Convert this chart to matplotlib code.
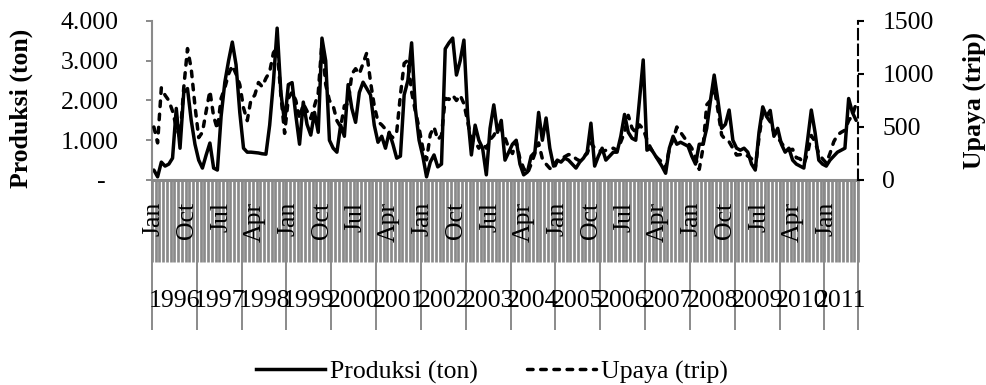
import matplotlib
matplotlib.use("Agg")
import matplotlib.pyplot as plt
import matplotlib.transforms as mtransforms
from matplotlib.lines import Line2D
import numpy as np

# monthly data, Jan 1996 .. Sep 2011
produksi = [
    250, 80, 450, 350, 400, 550, 1800, 800, 2200, 2300, 1500, 900,
    500, 300, 630, 930, 300, 250, 1600, 2460, 3000, 3470, 2900, 1700,
    800, 700, 700, 690, 680, 660, 650, 1380, 2460, 3820, 2200, 1450,
    2400, 2450, 1630, 900, 1960, 1400, 1130, 1700, 1200, 3570, 3000, 1000,
    800, 700, 1380, 1100, 2400, 1800, 1450, 2200, 2460, 2300, 2140, 1380,
    950, 1100, 800, 1200, 900, 550, 600, 2140, 2500, 3450, 1800, 1000,
    600, 80, 450, 630, 330, 400, 3300, 3450, 3570, 2640, 3000, 3520,
    1630, 630, 1380, 1000, 800, 130, 1300, 1890, 1200, 1500, 500, 700,
    900, 1000, 400, 130, 200, 600, 700, 1700, 1000, 1560, 800, 350,
    500, 450, 550, 500, 400, 300, 450, 550, 700, 1430, 350, 600,
    800, 500, 600, 700, 700, 1100, 1650, 1200, 1050, 1000, 2000, 3020,
    750, 800, 650, 500, 350, 170, 800, 1100, 900, 950, 900, 850,
    600, 400, 900, 900, 1300, 2000, 2640, 2000, 1300, 1400, 1760, 1000,
    800, 750, 800, 700, 400, 250, 1200, 1840, 1600, 1750, 1100, 1300,
    900, 700, 800, 500, 400, 350, 300, 1000, 1760, 1200, 500, 400,
    350, 500, 600, 700, 750, 800, 2050, 1700, 1500,
]
upaya = [
    500, 350, 870, 800, 750, 650, 500, 400, 870, 1240, 1050, 700,
    400, 450, 650, 840, 600, 480, 770, 870, 1000, 1080, 1000, 900,
    680, 560, 760, 800, 920, 880, 960, 1020, 1200, 1250, 800, 440,
    770, 830, 750, 580, 720, 650, 580, 700, 820, 1300, 900, 750,
    700, 560, 500, 700, 720, 1000, 1050, 1000, 1100, 1200, 925, 700,
    550, 520, 480, 430, 400, 450, 800, 1100, 1130, 830, 650, 490,
    300, 190, 430, 500, 380, 420, 770, 760, 800, 750, 800, 720,
    550, 380, 360, 300, 350, 300, 380, 420, 490, 480, 400, 300,
    250, 360, 200, 110, 60, 150, 250, 350, 200, 150, 110, 100,
    180, 200, 220, 240, 235, 200, 180, 220, 250, 350, 300, 280,
    270, 280, 290, 300, 280, 360, 450, 610, 490, 450, 520, 480,
    380, 300, 235, 200, 170, 110, 300, 380, 500, 450, 400, 350,
    300, 210, 100, 300, 710, 750, 880, 660, 425, 380, 360, 300,
    235, 240, 220, 230, 200, 110, 400, 640, 600, 550, 450, 400,
    350, 300, 280, 290, 210, 200, 150, 250, 420, 360, 250, 200,
    160, 250, 360, 425, 450, 470, 560, 610, 720,
]
month_names = ["Jan", "Feb", "Mar", "Apr", "May", "Jun",
               "Jul", "Aug", "Sep", "Oct", "Nov", "Dec"]
years = list(range(1996, 2012))
left_ticks = [0, 1000, 2000, 3000, 4000]
left_ticklabels = ["-  ", "1.000", "2.000", "3.000", "4.000"]
right_ticks = [0, 500, 1000, 1500]

plt.rcParams["font.family"] = ["Liberation Serif", "DejaVu Serif"]
FS = 18.5
GRAY = "#8a8a8a"

n = len(produksi)
x = np.arange(n)

fig = plt.figure(figsize=(9.86, 3.85), dpi=100)
ax = fig.add_axes([152 / 986, 1 - 180 / 385, 706 / 986, 159 / 385])
ax2 = ax.twinx()

ax.plot(x, produksi, color="black", lw=2.5, solid_joinstyle="round",
        solid_capstyle="round")
ax.set_xlim(-0.5, n - 0.5)
ax.set_ylim(0, 4000)
ax.set_yticks(left_ticks)
ax.set_yticklabels(left_ticklabels)
ax.tick_params(axis="y", which="major", length=4, width=1.4, color=GRAY,
               pad=20, labelsize=FS)
for s in ["top", "right"]:
    ax.spines[s].set_visible(False)
ax.spines["left"].set_color(GRAY)
ax.spines["left"].set_linewidth(1.5)
ax.spines["bottom"].set_color(GRAY)
ax.spines["bottom"].set_linewidth(2.2)
ax.set_ylabel("Produksi (ton)", fontsize=FS, fontweight="bold")
ax.yaxis.set_label_coords(-0.1686, 0.45)

# month ticks form the grey band, year ticks go down further
ax.xaxis.remove_overlapping_locs = False
ax.set_xticks(np.arange(-0.5, n))
year_edges = [-0.5 + 12 * k for k in range(len(years))] + [n - 0.5]
ax.set_xticks(year_edges, minor=True)
ax.tick_params(axis="x", which="major", length=59, width=1.95,
               color=GRAY, labelbottom=False)
ax.tick_params(axis="x", which="minor", length=108, width=1.4,
               color=GRAY, labelbottom=False)

xt = ax.get_xaxis_transform()
month_tr = mtransforms.offset_copy(xt, fig=fig, y=-22, units="dots")
for i in range(0, n, 9):
    ax.text(i, 0, month_names[i % 12], transform=month_tr, rotation=90,
            ha="center", va="top", fontsize=FS)
year_tr = mtransforms.offset_copy(xt, fig=fig, y=-121, units="dots")
for k, yr in enumerate(years):
    lo = year_edges[k]
    hi = year_edges[k + 1]
    ax.text((lo + hi) / 2, 0, str(yr), transform=year_tr,
            ha="center", va="center", fontsize=FS)

ax2.plot(x, upaya, color="black", lw=2.5, linestyle=(0, (1.6, 2.2)),
         dash_capstyle="round", dash_joinstyle="round")
ax2.set_ylim(0, 1500)
ax2.set_yticks(right_ticks)
for s in ["top", "left", "bottom"]:
    ax2.spines[s].set_visible(False)
ax2.spines["right"].set_linestyle((0, (5, 2.5)))
ax2.spines["right"].set_linewidth(1.5)
ax2.spines["right"].set_color("black")
ax2.tick_params(axis="y", length=4.5, width=1.5, color="black", pad=13,
                labelsize=FS)
ax2.set_ylabel("Upaya (trip)", fontsize=FS, fontweight="bold", rotation=90)
ax2.yaxis.set_label_coords(1.1487, 0.5)

handles = [
    Line2D([], [], color="black", lw=2.5),
    Line2D([], [], color="black", lw=2.5, linestyle=(0, (1.6, 2.2)),
           dash_capstyle="round"),
]
fig.legend(handles, ["Produksi (ton)", "Upaya (trip)"], loc="center",
           bbox_to_anchor=(492 / 986, 1 - 372 / 385), ncol=2,
           frameon=False, fontsize=FS, handlelength=2.7,
           handletextpad=0.2, columnspacing=1.9)

fig.savefig("out.png", dpi=100)
